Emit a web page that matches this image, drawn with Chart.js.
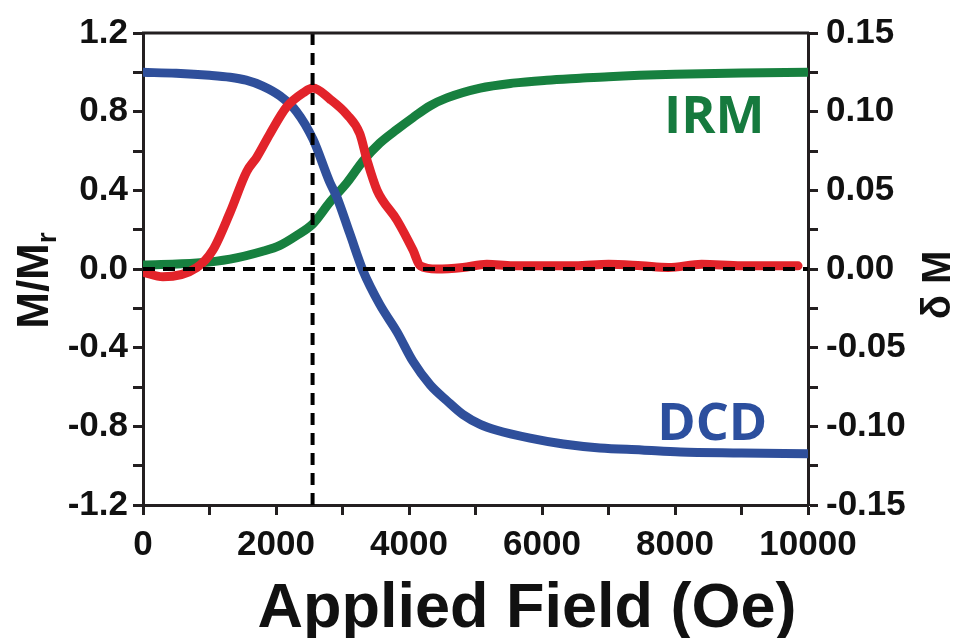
<!DOCTYPE html>
<html>
<head>
<meta charset="utf-8">
<script src="https://cdn.jsdelivr.net/npm/chart.js@4/dist/chart.umd.min.js"></script>
<style>
  html, body { margin: 0; padding: 0; background: #fff; }
  #wrap { width: 959px; height: 638px; }
</style>
</head>
<body>
<div id="wrap"><canvas id="chart"></canvas></div>
<script>
'use strict'

// ************* Data ***************************************
let dcdField = [0, 500, 1000, 1310, 1550, 1800, 2060, 2310, 2556, 2810, 2910, 3110, 3310, 3560, 3820, 4060, 4320, 4570, 4810, 5070, 5320, 5820, 6320, 6870, 7500, 8080, 9000, 10000];
let dcd = [1.00, 0.995, 0.985, 0.975, 0.96, 0.93, 0.88, 0.80, 0.66, 0.44, 0.37, 0.18, -0.01, -0.18, -0.32, -0.47, -0.59, -0.67, -0.74, -0.79, -0.82, -0.86, -0.89, -0.91, -0.92, -0.93, -0.935, -0.94];

let irmField = [0, 810, 1310, 1800, 2060, 2310, 2556, 2810, 3070, 3310, 3560, 3820, 4060, 4320, 4570, 5070, 5560, 6070, 6570, 7000, 8000, 9000, 10000];
let irm = [0.02, 0.03, 0.05, 0.09, 0.12, 0.17, 0.23, 0.34, 0.44, 0.55, 0.64, 0.71, 0.77, 0.83, 0.87, 0.92, 0.945, 0.96, 0.97, 0.978, 0.99, 0.997, 1.0];

let deltaField = [0, 300, 810, 1050, 1310, 1560, 1710, 1910, 2160, 2410, 2556, 2810, 3070, 3260, 3370, 3520, 3820, 4060, 4170, 4420, 4810, 5170, 5560, 6000, 6500, 7000, 7500, 7900, 8400, 9000, 9500, 9850];
let deltaM = [-0.002, -0.005, 0.001, 0.012, 0.036, 0.062, 0.071, 0.086, 0.103, 0.112, 0.115, 0.108, 0.098, 0.086, 0.069, 0.050, 0.031, 0.012, 0.002, 0.000, 0.001, 0.003, 0.002, 0.002, 0.002, 0.003, 0.002, 0.001, 0.003, 0.002, 0.002, 0.002];

let peakField = 2550;   // vertical dashed marker

// axis ranges
let xRange = [0, 10000];
let leftRange = [-1.2, 1.2];
let rightRange = [-0.15, 0.15];


// ************ Helpers **********
function toPoints(xs, ys) {
  let pts = [];
  for (let i = 0; i < xs.length; i++) {
    pts.push({ x: xs[i], y: ys[i] });
  }
  return pts;
}

let axisColor = '#231f20';
let tickFont = { family: 'Liberation Sans, Arial, sans-serif', size: 35, weight: 'bold' };

// draws axis titles, curve labels and the top border
let textPlugin = {
  id: 'textPlugin',
  afterDraw(chart) {
    let ctx = chart.ctx;
    let area = chart.chartArea;
    let xs = chart.scales.x;
    let ys = chart.scales.y;
    ctx.save();

    // top border of the box
    ctx.strokeStyle = axisColor;
    ctx.lineWidth = 3;
    ctx.beginPath();
    ctx.moveTo(area.left - 1, area.top);
    ctx.lineTo(area.right + 1, area.top);
    ctx.stroke();

    ctx.fillStyle = '#111';
    ctx.textAlign = 'center';
    ctx.textBaseline = 'alphabetic';

    // x title
    ctx.font = 'bold 63px "Liberation Sans", Arial, sans-serif';
    ctx.fillText('Applied Field (Oe)', 527, 627);

    // left title M/Mr (rotated)
    ctx.save();
    ctx.translate(48, 280);
    ctx.rotate(-Math.PI / 2);
    ctx.font = 'bold 44px "Liberation Sans", Arial, sans-serif';
    ctx.textAlign = 'left';
    let main = 'M/M';
    let w = ctx.measureText(main).width;
    ctx.fillText(main, -w / 2 - 6, 0);
    ctx.font = 'bold 28px "Liberation Sans", Arial, sans-serif';
    ctx.fillText('r', w / 2 - 6, 8);
    ctx.restore();

    // right title δ M (reads bottom to top)
    ctx.save();
    ctx.translate(950, 285);
    ctx.rotate(-Math.PI / 2);
    ctx.font = 'bold 40px "Liberation Sans", Arial, sans-serif';
    ctx.textAlign = 'center';
    ctx.fillText('\u03B4 M', 0, 0);
    ctx.restore();

    // curve labels
    ctx.font = 'bold 52px "Open Sans", sans-serif';
    ctx.fillStyle = '#167a3e';
    ctx.fillText('IRM', xs.getPixelForValue(8590), ys.getPixelForValue(0.69));
    ctx.fillStyle = '#2c4f9e';
    ctx.fillText('DCD', xs.getPixelForValue(8560), ys.getPixelForValue(-0.87));

    ctx.restore();
  }
};


// *************** chart ****************
let chart = document.getElementById('chart');

let myChart = new Chart(chart, {
  type: 'line',
  data: {
    datasets: [
      {
        label: 'zero',
        data: toPoints(xRange, [0, 0]),
        borderColor: '#000',
        borderWidth: 4,
        borderDash: [12, 8],
        pointRadius: 0,
        order: 0
      },
      {
        label: 'peak',
        data: toPoints([peakField, peakField], leftRange),
        borderColor: '#000',
        borderWidth: 4,
        borderDash: [12, 8],
        pointRadius: 0,
        order: 0
      },
      {
        label: 'delta M',
        data: toPoints(deltaField, deltaM),
        yAxisID: 'y2',
        borderColor: '#e2232a',
        borderWidth: 9,
        pointRadius: 0,
        cubicInterpolationMode: 'monotone',
        borderCapStyle: 'round',
        order: 1
      },
      {
        label: 'DCD',
        data: toPoints(dcdField, dcd),
        borderColor: '#2f4f9b',
        borderWidth: 9,
        pointRadius: 0,
        cubicInterpolationMode: 'monotone',
        borderCapStyle: 'round',
        order: 2
      },
      {
        label: 'IRM',
        data: toPoints(irmField, irm),
        borderColor: '#17803f',
        borderWidth: 9,
        pointRadius: 0,
        cubicInterpolationMode: 'monotone',
        borderCapStyle: 'round',
        order: 3
      }
    ]
  },
  options: {
    responsive: true,
    maintainAspectRatio: false,
    animation: false,
    layout: { padding: { top: 33, left: 0, right: 0, bottom: 0 } },
    plugins: {
      legend: { display: false },
      tooltip: { enabled: false }
    },
    scales: {
      x: {
        type: 'linear',
        min: xRange[0],
        max: xRange[1],
        afterFit(scale) { scale.height = 133; },
        border: { display: true, color: axisColor, width: 3 },
        grid: { drawOnChartArea: false, drawTicks: true, tickLength: 10, tickWidth: 3, tickColor: axisColor },
        ticks: {
          stepSize: 1000,
          color: '#111',
          font: { family: 'Liberation Sans, Arial, sans-serif', size: 35, weight: 'bold' },
          padding: 9,
          maxRotation: 0,
          autoSkip: false,
          callback(v) { return Math.round(v) % 2000 === 0 ? String(Math.round(v)) : ''; }
        }
      },
      y: {
        type: 'linear',
        position: 'left',
        min: leftRange[0],
        max: leftRange[1],
        afterFit(scale) { scale.width = 143; },
        border: { display: true, color: axisColor, width: 3 },
        grid: { drawOnChartArea: false, drawTicks: true, tickLength: 10, tickWidth: 3, tickColor: axisColor },
        ticks: {
          stepSize: 0.2,
          color: '#111',
          font: tickFont,
          padding: 5,
          autoSkip: false,
          callback(v) { return Math.round(v * 10) % 4 === 0 ? v.toFixed(1) : ''; }
        }
      },
      y2: {
        type: 'linear',
        position: 'right',
        min: rightRange[0],
        max: rightRange[1],
        afterFit(scale) { scale.width = 151; },
        border: { display: true, color: axisColor, width: 3 },
        grid: { drawOnChartArea: false, drawTicks: true, tickLength: 10, tickWidth: 3, tickColor: axisColor },
        ticks: {
          stepSize: 0.025,
          color: '#111',
          font: tickFont,
          padding: 8,
          autoSkip: false,
          callback(v) { return Math.round(v * 1000) % 50 === 0 ? v.toFixed(2) : ''; }
        }
      }
    }
  },
  plugins: [textPlugin]
});
</script>
</body>
</html>
